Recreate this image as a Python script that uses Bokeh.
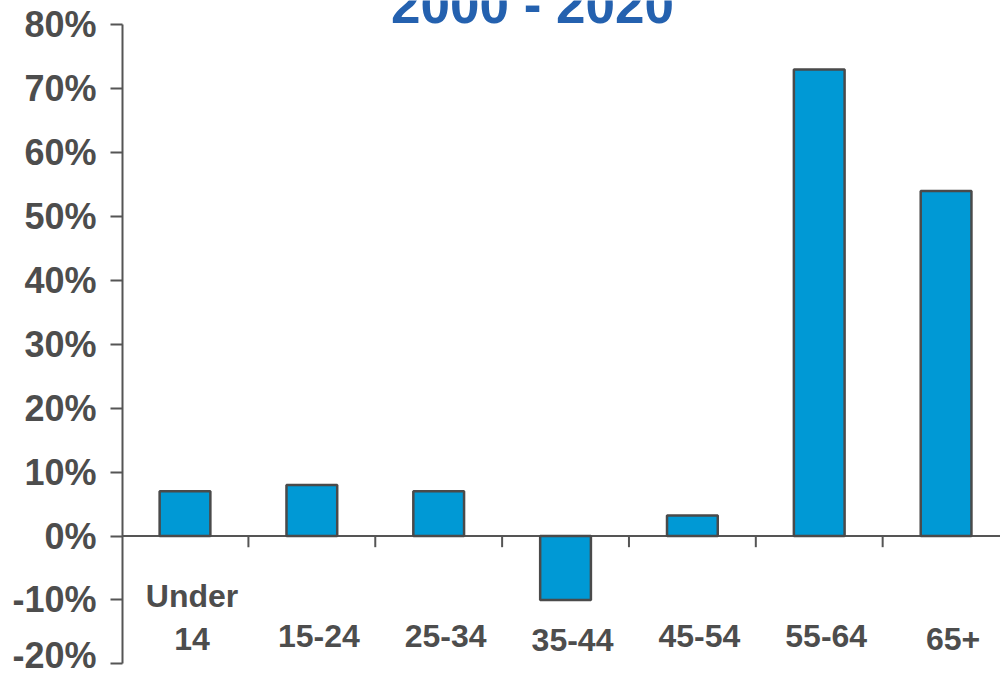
from bokeh.plotting import figure
from bokeh.models import Range1d, FixedTicker, PrintfTickFormatter, Span, ColumnDataSource, Label
from bokeh.embed import file_html
from bokeh.resources import INLINE
from bokeh.core.properties import value

# ---------------- data ----------------
title_text = "2000 - 2020"
categories = ["Under\n14", "15-24", "25-34", "35-44", "45-54", "55-64", "65+"]
growth_pct = [7.0, 8.0, 7.0, -10.0, 3.2, 73.0, 54.0]
y_ticks = [-20, -10, 0, 10, 20, 30, 40, 50, 60, 70, 80]

# ---------------- style / layout ----------------
label_base = [-16.1, -15.7, -15.7, -16.3, -15.7, -15.7, -16.1]  # baseline of last label line (axis units)
line_step = 6.73  # distance between label lines (axis units)
FONT = "Liberation Sans"
TXT = "#4d4d4d"
AXC = "#555555"
BAR = "#0099d5"
BAR_LINE = "#4a4a4a"

p = figure(width=1000, height=675, output_backend="svg", toolbar_location=None,
           x_range=Range1d(-0.4927, 6.429), y_range=Range1d(-21.83, 83.80),
           x_axis_type=None, y_axis_location="left",
           min_border_left=122, min_border_right=0, min_border_top=0, min_border_bottom=0)
p.outline_line_color = None
p.ygrid.grid_line_color = None
p.background_fill_color = "white"
p.border_fill_color = "white"

ax = p.yaxis[0]
ax.ticker = FixedTicker(ticks=y_ticks)
ax.formatter = PrintfTickFormatter(format="%d%%")
ax.bounds = (min(y_ticks), max(y_ticks))
ax.axis_line_color = AXC
ax.axis_line_width = 2
ax.major_tick_line_color = AXC
ax.major_tick_line_width = 2
ax.major_tick_in = 0
ax.major_tick_out = 12
ax.minor_tick_line_color = None
ax.major_label_standoff = 14
ax.major_label_text_font = FONT
ax.major_label_text_font_style = "bold"
ax.major_label_text_font_size = "36px"
ax.major_label_text_color = TXT

xs = list(range(len(categories)))

# zero line
p.add_layout(Span(location=0, dimension="width", line_color=AXC, line_width=2, level="underlay"))

# bars
src = ColumnDataSource(dict(x=xs, top=growth_pct, bottom=[0] * len(xs)))
p.vbar(x="x", top="top", bottom="bottom", width=0.40, source=src,
       fill_color=BAR, line_color=BAR_LINE, line_width=2.5)

# category tick marks between categories, hanging below zero line
mids = [i + 0.5 for i in xs[:-1]]
p.segment(x0=mids, y0=[0] * len(mids), x1=mids, y1=[-1.75] * len(mids),
          line_color=AXC, line_width=2)

# category labels (split into lines)
lx, ly, lt = [], [], []
for i, (cat, base) in enumerate(zip(categories, label_base)):
    parts = cat.split("\n")
    n = len(parts)
    for j, part in enumerate(parts):
        lx.append(i)
        ly.append(base + (n - 1 - j) * line_step)
        lt.append(part)
p.text(x=lx, y=ly, text=lt, text_align="center", text_baseline="alphabetic",
       x_offset=7, text_font=value(FONT), text_font_style="bold",
       text_font_size="32px", text_color=TXT)

# title (partly cut off at top, as in the reference)
p.add_layout(Label(x=2.74, y=83.1, text=title_text, text_align="center",
                   text_baseline="alphabetic", text_font=FONT, text_font_style="bold",
                   text_font_size="53px", text_color="#2461af"))

open("out.html", "w").write(file_html(p, INLINE))
